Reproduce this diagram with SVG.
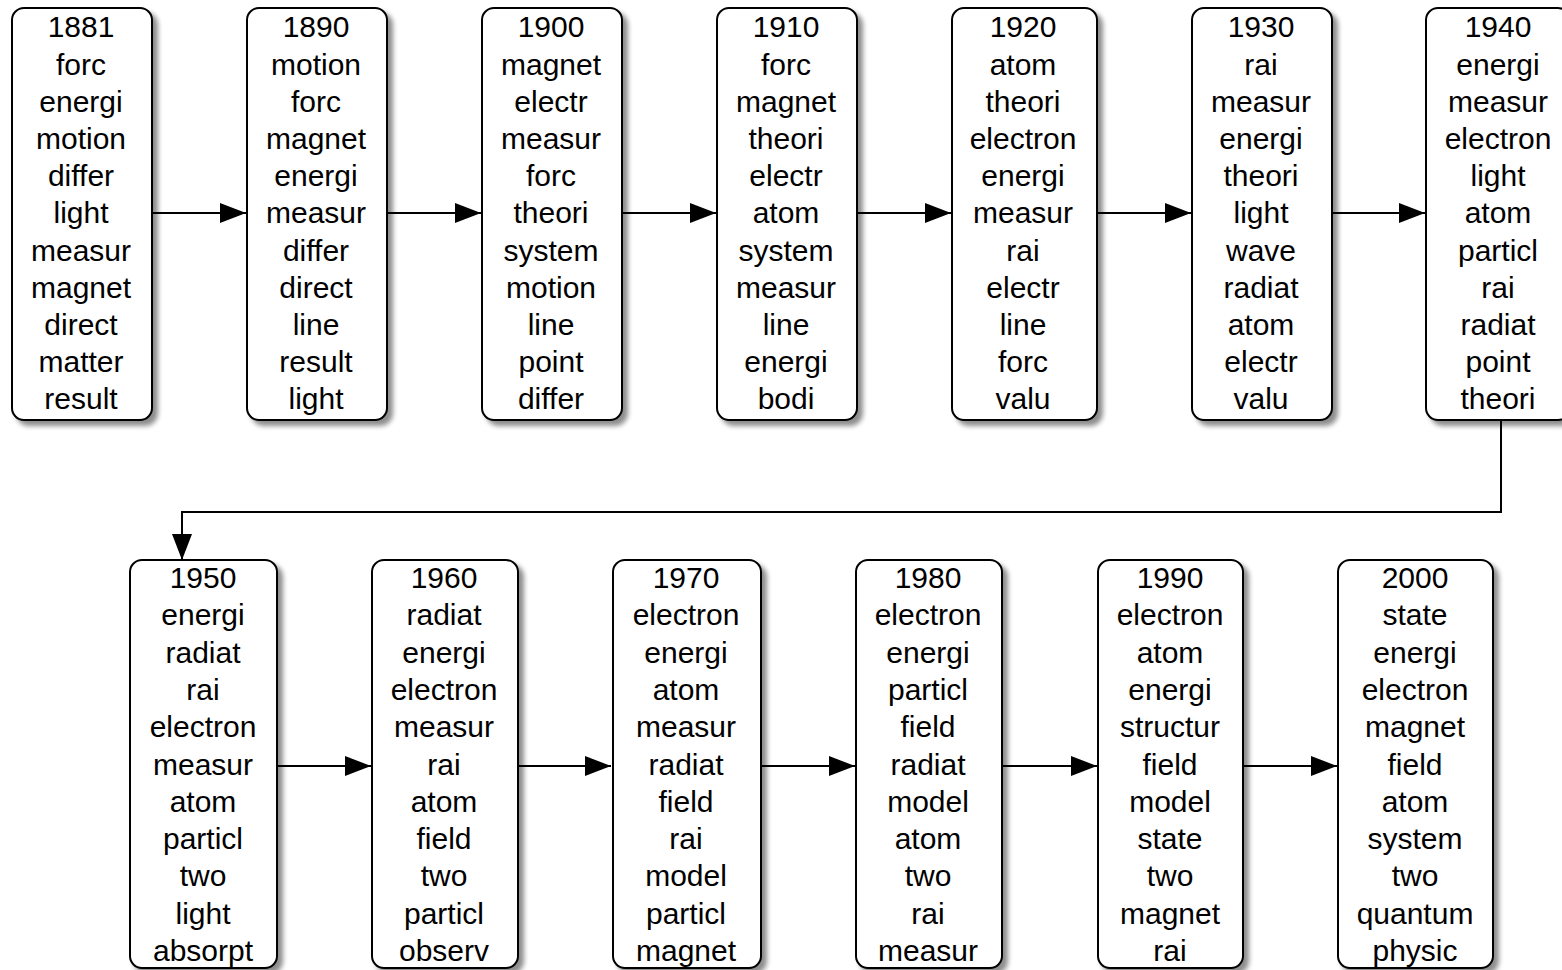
<svg xmlns="http://www.w3.org/2000/svg" width="1562" height="970" viewBox="0 0 1562 970">
<style>
.box{fill:#fff;stroke:#000;stroke-width:2;filter:url(#sh)}
.t{font-family:"Liberation Sans",Arial,Helvetica,sans-serif;font-size:30px;fill:#000;text-anchor:middle}
.c{fill:none;stroke:#000;stroke-width:2;marker-end:url(#ah)}
</style>
<defs>
<filter id="sh" x="-10%" y="-10%" width="130%" height="130%">
<feGaussianBlur in="SourceAlpha" stdDeviation="2.5"/>
<feOffset dx="5" dy="5" result="b"/>
<feComponentTransfer><feFuncA type="linear" slope="0.45"/></feComponentTransfer>
<feMerge><feMergeNode/><feMergeNode in="SourceGraphic"/></feMerge>
</filter>
<marker id="ah" markerWidth="26" markerHeight="20" refX="26" refY="10" markerUnits="userSpaceOnUse" orient="auto">
<path d="M0,0 L26,10 L0,20 Z" fill="#000"/>
</marker>
</defs>
<g id="connectors">
<path class="c" d="M152,213 H246"/>
<path class="c" d="M387,213 H481"/>
<path class="c" d="M622,213 H716"/>
<path class="c" d="M857,213 H951"/>
<path class="c" d="M1097,213 H1191"/>
<path class="c" d="M1332,213 H1425"/>
<path class="c" d="M1501,420 V512 H182 V560"/>
<path class="c" d="M277,766 H371"/>
<path class="c" d="M518,766 H611"/>
<path class="c" d="M761,766 H855"/>
<path class="c" d="M1002,766 H1097"/>
<path class="c" d="M1243,766 H1337"/>
</g>
<g id="n1881"><rect class="box" x="12" y="8" width="140" height="412" rx="12"/>
<text class="t"><tspan x="81" y="37.3">1881</tspan><tspan x="81" y="74.5">forc</tspan><tspan x="81" y="111.7">energi</tspan><tspan x="81" y="148.9">motion</tspan><tspan x="81" y="186.1">differ</tspan><tspan x="81" y="223.3">light</tspan><tspan x="81" y="260.5">measur</tspan><tspan x="81" y="297.7">magnet</tspan><tspan x="81" y="334.9">direct</tspan><tspan x="81" y="372.1">matter</tspan><tspan x="81" y="409.3">result</tspan></text></g>
<g id="n1890"><rect class="box" x="247" y="8" width="140" height="412" rx="12"/>
<text class="t"><tspan x="316" y="37.3">1890</tspan><tspan x="316" y="74.5">motion</tspan><tspan x="316" y="111.7">forc</tspan><tspan x="316" y="148.9">magnet</tspan><tspan x="316" y="186.1">energi</tspan><tspan x="316" y="223.3">measur</tspan><tspan x="316" y="260.5">differ</tspan><tspan x="316" y="297.7">direct</tspan><tspan x="316" y="334.9">line</tspan><tspan x="316" y="372.1">result</tspan><tspan x="316" y="409.3">light</tspan></text></g>
<g id="n1900"><rect class="box" x="482" y="8" width="140" height="412" rx="12"/>
<text class="t"><tspan x="551" y="37.3">1900</tspan><tspan x="551" y="74.5">magnet</tspan><tspan x="551" y="111.7">electr</tspan><tspan x="551" y="148.9">measur</tspan><tspan x="551" y="186.1">forc</tspan><tspan x="551" y="223.3">theori</tspan><tspan x="551" y="260.5">system</tspan><tspan x="551" y="297.7">motion</tspan><tspan x="551" y="334.9">line</tspan><tspan x="551" y="372.1">point</tspan><tspan x="551" y="409.3">differ</tspan></text></g>
<g id="n1910"><rect class="box" x="717" y="8" width="140" height="412" rx="12"/>
<text class="t"><tspan x="786" y="37.3">1910</tspan><tspan x="786" y="74.5">forc</tspan><tspan x="786" y="111.7">magnet</tspan><tspan x="786" y="148.9">theori</tspan><tspan x="786" y="186.1">electr</tspan><tspan x="786" y="223.3">atom</tspan><tspan x="786" y="260.5">system</tspan><tspan x="786" y="297.7">measur</tspan><tspan x="786" y="334.9">line</tspan><tspan x="786" y="372.1">energi</tspan><tspan x="786" y="409.3">bodi</tspan></text></g>
<g id="n1920"><rect class="box" x="952" y="8" width="145" height="412" rx="12"/>
<text class="t"><tspan x="1023" y="37.3">1920</tspan><tspan x="1023" y="74.5">atom</tspan><tspan x="1023" y="111.7">theori</tspan><tspan x="1023" y="148.9">electron</tspan><tspan x="1023" y="186.1">energi</tspan><tspan x="1023" y="223.3">measur</tspan><tspan x="1023" y="260.5">rai</tspan><tspan x="1023" y="297.7">electr</tspan><tspan x="1023" y="334.9">line</tspan><tspan x="1023" y="372.1">forc</tspan><tspan x="1023" y="409.3">valu</tspan></text></g>
<g id="n1930"><rect class="box" x="1192" y="8" width="140" height="412" rx="12"/>
<text class="t"><tspan x="1261" y="37.3">1930</tspan><tspan x="1261" y="74.5">rai</tspan><tspan x="1261" y="111.7">measur</tspan><tspan x="1261" y="148.9">energi</tspan><tspan x="1261" y="186.1">theori</tspan><tspan x="1261" y="223.3">light</tspan><tspan x="1261" y="260.5">wave</tspan><tspan x="1261" y="297.7">radiat</tspan><tspan x="1261" y="334.9">atom</tspan><tspan x="1261" y="372.1">electr</tspan><tspan x="1261" y="409.3">valu</tspan></text></g>
<g id="n1940"><rect class="box" x="1426" y="8" width="144" height="412" rx="12"/>
<text class="t"><tspan x="1498" y="37.3">1940</tspan><tspan x="1498" y="74.5">energi</tspan><tspan x="1498" y="111.7">measur</tspan><tspan x="1498" y="148.9">electron</tspan><tspan x="1498" y="186.1">light</tspan><tspan x="1498" y="223.3">atom</tspan><tspan x="1498" y="260.5">particl</tspan><tspan x="1498" y="297.7">rai</tspan><tspan x="1498" y="334.9">radiat</tspan><tspan x="1498" y="372.1">point</tspan><tspan x="1498" y="409.3">theori</tspan></text></g>
<g id="n1950"><rect class="box" x="130" y="560" width="147" height="408" rx="12"/>
<text class="t"><tspan x="203" y="588">1950</tspan><tspan x="203" y="625.3">energi</tspan><tspan x="203" y="662.6">radiat</tspan><tspan x="203" y="699.9">rai</tspan><tspan x="203" y="737.2">electron</tspan><tspan x="203" y="774.5">measur</tspan><tspan x="203" y="811.8">atom</tspan><tspan x="203" y="849.1">particl</tspan><tspan x="203" y="886.4">two</tspan><tspan x="203" y="923.7">light</tspan><tspan x="203" y="961">absorpt</tspan></text></g>
<g id="n1960"><rect class="box" x="372" y="560" width="146" height="408" rx="12"/>
<text class="t"><tspan x="444" y="588">1960</tspan><tspan x="444" y="625.3">radiat</tspan><tspan x="444" y="662.6">energi</tspan><tspan x="444" y="699.9">electron</tspan><tspan x="444" y="737.2">measur</tspan><tspan x="444" y="774.5">rai</tspan><tspan x="444" y="811.8">atom</tspan><tspan x="444" y="849.1">field</tspan><tspan x="444" y="886.4">two</tspan><tspan x="444" y="923.7">particl</tspan><tspan x="444" y="961">observ</tspan></text></g>
<g id="n1970"><rect class="box" x="613" y="560" width="148" height="408" rx="12"/>
<text class="t"><tspan x="686" y="588">1970</tspan><tspan x="686" y="625.3">electron</tspan><tspan x="686" y="662.6">energi</tspan><tspan x="686" y="699.9">atom</tspan><tspan x="686" y="737.2">measur</tspan><tspan x="686" y="774.5">radiat</tspan><tspan x="686" y="811.8">field</tspan><tspan x="686" y="849.1">rai</tspan><tspan x="686" y="886.4">model</tspan><tspan x="686" y="923.7">particl</tspan><tspan x="686" y="961">magnet</tspan></text></g>
<g id="n1980"><rect class="box" x="856" y="560" width="146" height="408" rx="12"/>
<text class="t"><tspan x="928" y="588">1980</tspan><tspan x="928" y="625.3">electron</tspan><tspan x="928" y="662.6">energi</tspan><tspan x="928" y="699.9">particl</tspan><tspan x="928" y="737.2">field</tspan><tspan x="928" y="774.5">radiat</tspan><tspan x="928" y="811.8">model</tspan><tspan x="928" y="849.1">atom</tspan><tspan x="928" y="886.4">two</tspan><tspan x="928" y="923.7">rai</tspan><tspan x="928" y="961">measur</tspan></text></g>
<g id="n1990"><rect class="box" x="1098" y="560" width="145" height="408" rx="12"/>
<text class="t"><tspan x="1170" y="588">1990</tspan><tspan x="1170" y="625.3">electron</tspan><tspan x="1170" y="662.6">atom</tspan><tspan x="1170" y="699.9">energi</tspan><tspan x="1170" y="737.2">structur</tspan><tspan x="1170" y="774.5">field</tspan><tspan x="1170" y="811.8">model</tspan><tspan x="1170" y="849.1">state</tspan><tspan x="1170" y="886.4">two</tspan><tspan x="1170" y="923.7">magnet</tspan><tspan x="1170" y="961">rai</tspan></text></g>
<g id="n2000"><rect class="box" x="1338" y="560" width="155" height="408" rx="12"/>
<text class="t"><tspan x="1415" y="588">2000</tspan><tspan x="1415" y="625.3">state</tspan><tspan x="1415" y="662.6">energi</tspan><tspan x="1415" y="699.9">electron</tspan><tspan x="1415" y="737.2">magnet</tspan><tspan x="1415" y="774.5">field</tspan><tspan x="1415" y="811.8">atom</tspan><tspan x="1415" y="849.1">system</tspan><tspan x="1415" y="886.4">two</tspan><tspan x="1415" y="923.7">quantum</tspan><tspan x="1415" y="961">physic</tspan></text></g>
</svg>
